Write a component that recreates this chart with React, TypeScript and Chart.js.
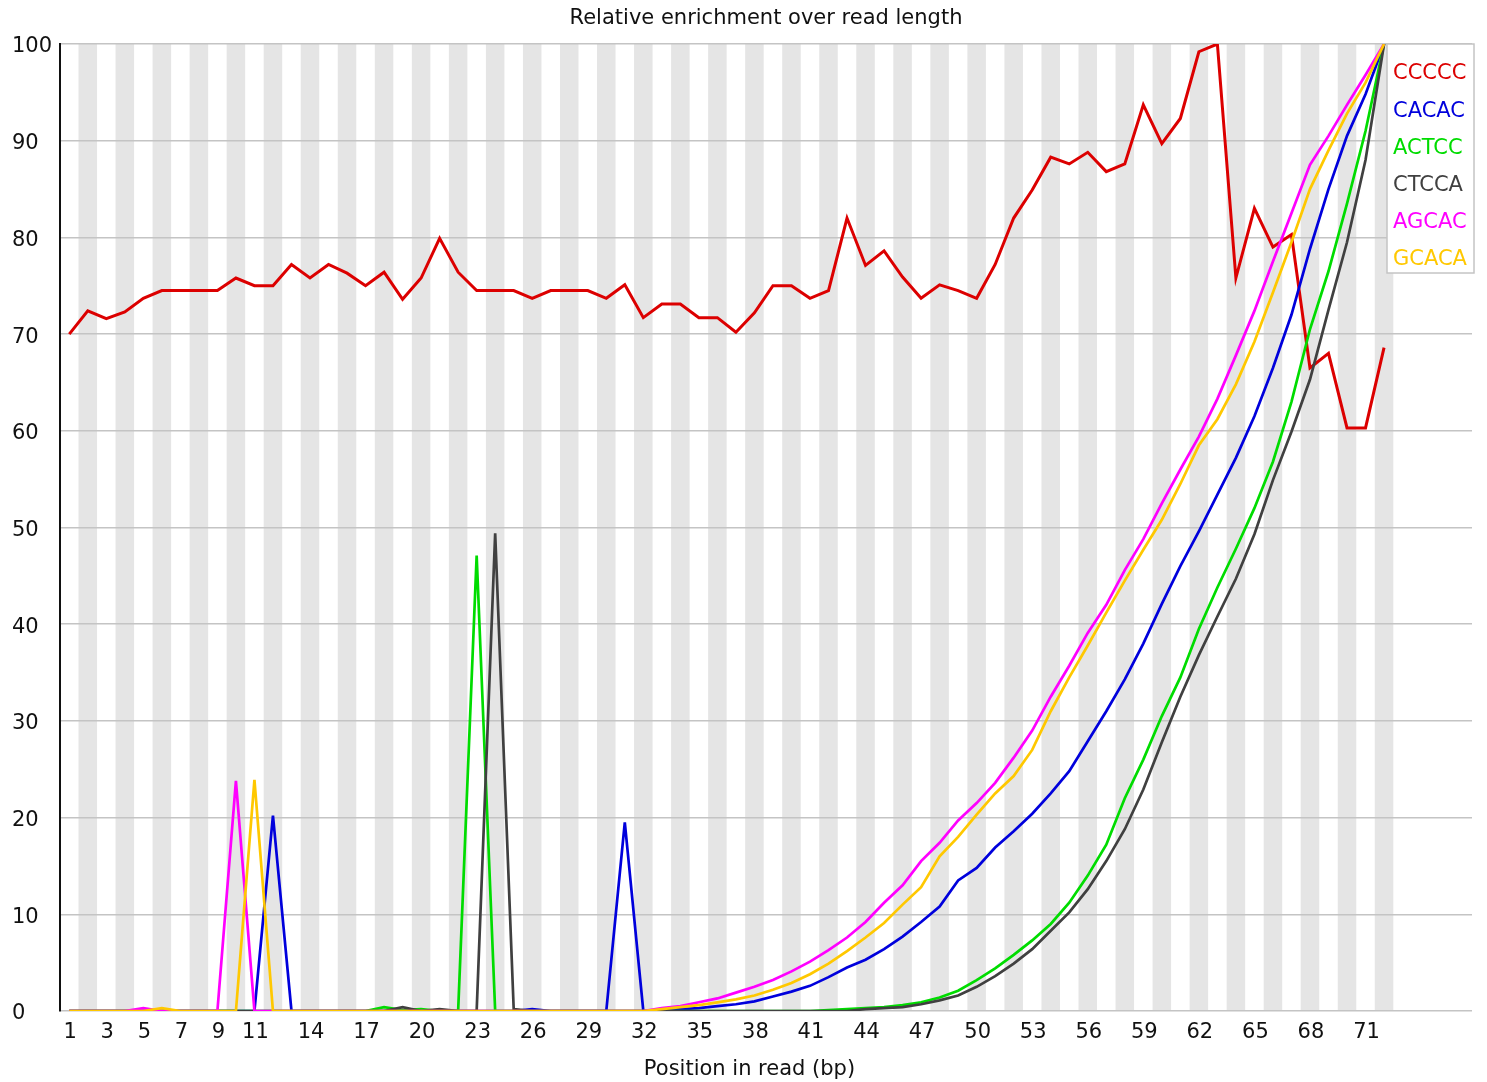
import React, { useEffect, useRef } from 'react';
import { Chart, registerables } from 'chart.js';

Chart.register(...registerables);

const chartTitle = 'Relative enrichment over read length';
const xAxisTitle = 'Position in read (bp)';

const positions = [
  1, 2, 3, 4, 5, 6, 7, 8, 9, 10, 11, 12, 13, 14, 15, 16, 17, 18, 19, 20, 21, 22, 23, 24,
  25, 26, 27, 28, 29, 30, 31, 32, 33, 34, 35, 36, 37, 38, 39, 40, 41, 42, 43, 44, 45, 46, 47, 48,
  49, 50, 51, 52, 53, 54, 55, 56, 57, 58, 59, 60, 61, 62, 63, 64, 65, 66, 67, 68, 69, 70, 71, 72,
];

const xTickValues = [1, 3, 5, 7, 9, 11, 14, 17, 20, 23, 26, 29, 32, 35, 38, 41, 44, 47, 50, 53, 56, 59, 62, 65, 68, 71];

const kmerLabels = ['CCCCC', 'CACAC', 'ACTCC', 'CTCCA', 'AGCAC', 'GCACA'];
const kmerColors = ['rgb(220,0,0)', 'rgb(0,0,220)', 'rgb(0,220,0)', 'rgb(64,64,64)', 'rgb(255,0,255)', 'rgb(255,200,0)'];

const cccccValues = [
  70.0, 72.4, 71.6, 72.3, 73.7, 74.5, 74.5, 74.5, 74.5, 75.8, 75.0, 75.0, 77.2, 75.8, 77.2, 76.3, 75.0, 76.4,
  73.6, 75.8, 79.9, 76.4, 74.5, 74.5, 74.5, 73.7, 74.5, 74.5, 74.5, 73.7, 75.1, 71.7, 73.1, 73.1, 71.7, 71.7,
  70.2, 72.2, 75.0, 75.0, 73.7, 74.5, 82.0, 77.1, 78.6, 75.9, 73.7, 75.1, 74.5, 73.7, 77.2, 82.0, 84.9, 88.3,
  87.6, 88.8, 86.8, 87.6, 93.7, 89.7, 92.3, 99.2, 100.0, 75.8, 83.0, 79.0, 80.3, 66.5, 68.0, 60.3, 60.3, 68.6,
];

const cacacValues = [
  0, 0, 0, 0, 0, 0, 0, 0, 0, 0, 0, 20.2, 0, 0, 0, 0, 0, 0,
  0, 0, 0, 0, 0, 0, 0, 0.2, 0, 0, 0, 0, 19.5, 0, 0.1, 0.2, 0.3, 0.5,
  0.7, 1.0, 1.5, 2.0, 2.6, 3.5, 4.5, 5.3, 6.4, 7.7, 9.2, 10.8, 13.5, 14.8, 16.9, 18.6, 20.4, 22.5,
  24.8, 27.9, 31.0, 34.3, 38.0, 42.1, 46.0, 49.6, 53.4, 57.2, 61.5, 66.5, 72.0, 78.8, 85.0, 90.5, 94.8, 100.0,
];

const actccValues = [
  0, 0, 0, 0, 0, 0, 0, 0, 0, 0, 0, 0, 0, 0, 0, 0, 0, 0.4,
  0.1, 0.2, 0, 0, 47.1, 0, 0, 0, 0, 0, 0, 0, 0, 0, 0, 0, 0, 0,
  0, 0, 0, 0, 0, 0.1, 0.2, 0.3, 0.4, 0.6, 0.9, 1.4, 2.1, 3.2, 4.4, 5.8, 7.3, 9.0,
  11.2, 14.0, 17.2, 22.0, 26.0, 30.5, 34.5, 39.5, 43.8, 47.8, 52.0, 56.8, 63.0, 70.5, 76.5, 83.5, 91.0, 100.0,
];

const ctccaValues = [
  0, 0, 0, 0, 0, 0, 0, 0, 0, 0, 0, 0, 0, 0, 0, 0, 0, 0,
  0.4, 0, 0.2, 0, 0, 49.4, 0.2, 0, 0, 0, 0, 0, 0, 0, 0, 0, 0, 0,
  0, 0, 0, 0, 0, 0, 0, 0.2, 0.3, 0.4, 0.7, 1.1, 1.6, 2.5, 3.6, 4.9, 6.4, 8.3,
  10.2, 12.6, 15.5, 18.8, 22.9, 27.8, 32.5, 36.8, 40.8, 44.7, 49.3, 54.9, 59.9, 65.3, 72.5, 79.5, 88.0, 100.0,
];

const agcacValues = [
  0, 0, 0, 0, 0.3, 0, 0, 0, 0, 23.8, 0, 0, 0, 0, 0, 0, 0, 0,
  0, 0, 0, 0, 0, 0, 0, 0, 0, 0, 0, 0, 0, 0, 0.3, 0.5, 0.9, 1.3,
  1.9, 2.5, 3.2, 4.1, 5.1, 6.3, 7.6, 9.2, 11.2, 13.0, 15.5, 17.4, 19.7, 21.5, 23.6, 26.2, 29.0, 32.5,
  35.7, 39.1, 42.0, 45.6, 48.8, 52.5, 56.0, 59.4, 63.3, 67.8, 72.4, 77.5, 82.5, 87.5, 90.5, 93.7, 96.8, 100.0,
];

const gcacaValues = [
  0, 0, 0, 0, 0, 0.3, 0, 0, 0, 0, 23.9, 0, 0, 0, 0, 0, 0, 0,
  0, 0, 0, 0, 0, 0, 0, 0, 0, 0, 0, 0, 0, 0, 0.2, 0.4, 0.6, 0.9,
  1.2, 1.6, 2.2, 2.9, 3.8, 4.9, 6.2, 7.6, 9.1, 11.0, 12.8, 16.0, 18.0, 20.3, 22.5, 24.3, 27.0, 31.0,
  34.5, 37.8, 41.2, 44.5, 47.7, 50.8, 54.5, 58.5, 61.2, 64.8, 69.2, 74.3, 79.5, 85.0, 89.0, 92.8, 96.0, 100.0,
];

const seriesValues = [cccccValues, cacacValues, actccValues, ctccaValues, agcacValues, gcacaValues];
const seriesWidths = [3, 2.7, 2.7, 2.7, 2.7, 2.7];

const FONT_FAMILY = '"DejaVu Sans", sans-serif';
const FONT_SIZE = 21;

const stripesPlugin = {
  id: 'stripes',
  beforeDraw(chart: any) {
    const { ctx, chartArea, scales } = chart;
    const x = scales.x;
    ctx.save();
    ctx.fillStyle = '#e5e5e5';
    positions.forEach((p) => {
      if (p % 2 === 0) {
        const l = x.getPixelForValue(p - 0.5);
        const r = x.getPixelForValue(p + 0.5);
        ctx.fillRect(l, chartArea.top, r - l, chartArea.bottom - chartArea.top);
      }
    });
    ctx.restore();
  },
};

const textsPlugin = {
  id: 'texts',
  afterDraw(chart: any) {
    const { ctx, chartArea } = chart;
    ctx.save();
    ctx.fillStyle = '#111';
    ctx.font = `${FONT_SIZE}px ${FONT_FAMILY}`;
    ctx.textAlign = 'center';
    ctx.textBaseline = 'middle';
    ctx.fillText(chartTitle, (chartArea.left + chartArea.right) / 2, chartArea.top - 25);
    ctx.fillText(xAxisTitle, chart.width / 2 + 6, chartArea.bottom + 59);
    ctx.restore();
  },
};

const legendPlugin = {
  id: 'kmerLegend',
  afterDraw(chart: any) {
    const { ctx, chartArea } = chart;
    const left = chartArea.right - 85;
    const top = chartArea.top;
    const w = 87;
    const h = 229;
    ctx.save();
    ctx.fillStyle = '#ffffff';
    ctx.fillRect(left, top, w, h);
    ctx.strokeStyle = '#c4c4c4';
    ctx.lineWidth = 1.5;
    ctx.strokeRect(left, top, w, h);
    ctx.font = `${FONT_SIZE}px ${FONT_FAMILY}`;
    ctx.textAlign = 'left';
    ctx.textBaseline = 'middle';
    chart.data.datasets.forEach((ds: any, i: number) => {
      ctx.fillStyle = ds.borderColor;
      ctx.fillText(ds.label, left + 6, top + 30 + i * 37.2);
    });
    ctx.restore();
  },
};

export default function App() {
  const canvasRef = useRef<HTMLCanvasElement | null>(null);

  useEffect(() => {
    const canvas = canvasRef.current;
    if (!canvas) return;
    const datasets = kmerLabels.map((label, i) => ({
      label,
      data: positions.map((p, j) => ({ x: p, y: seriesValues[i][j] })),
      borderColor: kmerColors[i],
      backgroundColor: kmerColors[i],
      borderWidth: seriesWidths[i],
      pointRadius: 0,
      tension: 0,
      fill: false,
      order: kmerLabels.length - i,
    }));
    const chart = new Chart(canvas, {
      type: 'line',
      data: { datasets },
      options: {
        animation: false,
        responsive: false,
        devicePixelRatio: 1,
        events: [],
        layout: { padding: { left: 12, top: 44, right: 15, bottom: 0 } },
        plugins: {
          legend: { display: false },
          title: { display: false },
          tooltip: { enabled: false },
        },
        scales: {
          x: {
            type: 'linear',
            min: 0.5,
            max: 76.75,
            afterBuildTicks(scale: any) {
              scale.ticks = xTickValues.map((v) => ({ value: v }));
            },
            afterFit(scale: any) {
              scale.height = 71;
            },
            ticks: {
              autoSkip: false,
              maxRotation: 0,
              minRotation: 0,
              padding: 9,
              labelOffset: 1,
              color: '#111',
              font: { family: FONT_FAMILY, size: FONT_SIZE },
              callback: (v: any) => String(v),
            },
            grid: { display: false, drawTicks: false },
            border: { display: false },
          },
          y: {
            min: 0,
            max: 100,
            afterFit(scale: any) {
              scale.width = 48;
            },
            ticks: {
              stepSize: 10,
              crossAlign: 'far',
              padding: 0,
              labelOffset: 3,
              color: '#111',
              font: { family: FONT_FAMILY, size: FONT_SIZE },
            },
            grid: { color: '#c4c4c4', lineWidth: 1.5, drawTicks: false },
            border: { display: true, color: '#111', width: 2 },
          },
        },
      } as any,
      plugins: [stripesPlugin, textsPlugin, legendPlugin],
    });
    return () => chart.destroy();
  }, []);

  return (
    <div style={{ position: 'absolute', left: 0, top: 0, width: 1487, height: 1082, background: '#fff' }}>
      <canvas ref={canvasRef} width={1487} height={1082} style={{ display: 'block' }} />
    </div>
  );
}
